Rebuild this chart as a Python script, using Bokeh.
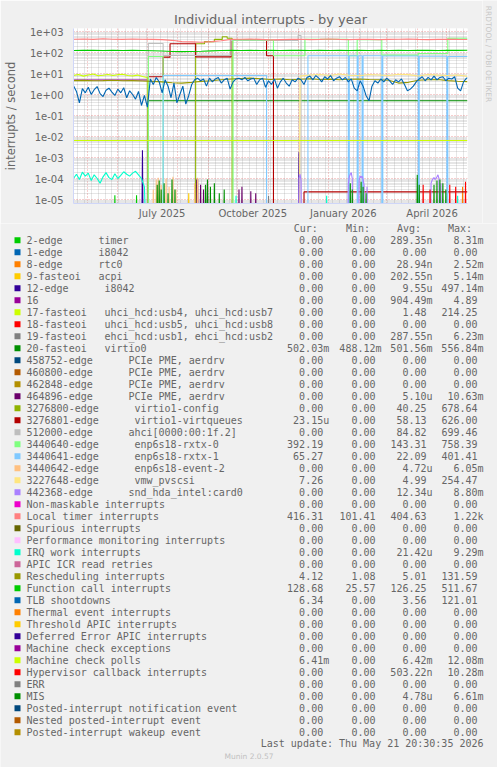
import re
import numpy as np
import pandas as pd
from bokeh.plotting import figure
from bokeh.layouts import column, row
from bokeh.models import Range1d, FixedTicker
from bokeh.core.properties import value
from bokeh.embed import file_html
from bokeh.resources import INLINE

# ---------------- data ----------------
START = "2025-04-17"          # left edge of the graph
N_DAYS = 400                  # graph spans 400 days
Y_MIN, Y_MAX = 6.45e-6, 1390

y_ticks = [1e-5, 1e-4, 1e-3, 1e-2, 1e-1, 1e0, 1e1, 1e2, 1e3]
y_tick_labels = ["1e-05", "1e-04", "1e-03", "1e-02", "1e-01", "1e+00", "1e+01", "1e+02", "1e+03"]
x_label_dates = ["2025-07-16", "2025-10-16", "2026-01-16", "2026-04-16"]
x_tick_labels = ["July 2025", "October 2025", "January 2026", "April 2026"]

# series values (day offset from START, rate in interrupts / second)
local_timer_days = list(range(0, 401, 10))
local_timer = [430, 440, 420, 450, 430, 420, 440, 430, 420, 410, 380, 330, 320, 310, 330, 360, 420, 430,
               440, 420, 400, 410, 420, 430, 410, 420, 440, 420, 410, 430, 420, 410, 420, 430, 440, 420,
               410, 420, 430, 420, 416]
function_call_days = list(range(0, 401, 10))
function_call = [125, 128, 126, 124, 127, 125, 126, 124, 122, 118, 112, 110, 112, 115, 120, 124, 126, 125,
                 127, 124, 126, 125, 128, 126, 124, 127, 125, 126, 124, 126, 125, 127, 124, 126, 125, 127,
                 126, 124, 127, 126, 128.7]
resched_days = list(range(0, 401, 10))
resched = [4.6, 4.7, 4.5, 4.6, 4.8, 4.5, 4.6, 4.4, 4.2, 4.0, 3.6, 3.5, 3.8, 4.2, 4.5, 5.0, 5.5, 5.8, 6.0,
           5.6, 5.2, 5.5, 5.0, 5.3, 5.6, 5.2, 5.4, 5.0, 5.3, 5.5, 5.2, 5.0, 4.8, 3.5, 3.8, 4.8, 5.0, 5.2,
           4.6, 4.3, 4.12]
tlb_days = list(range(0, 400, 3)) + [400]
tlb = [2.6, 1.4, 0.4, 1.9, 1.2, 2.2, 1.0, 1.7, 2.4, 1.1, 0.8, 1.6, 2.0, 1.3, 0.9, 1.8, 1.2, 2.1, 0.7, 1.5,
       1.0, 0.6, 1.4, 0.3, 0.9, 0.25,
       5.5, 3.0, 6.5, 4.0, 1.2, 5.0, 2.5, 0.7, 3.5, 0.4, 1.0, 2.5, 0.35, 0.9, 3.0,
       5.0, 6.0, 4.5, 5.5, 2.5, 6.0, 4.0, 5.5, 6.5, 3.5, 5.0, 6.0, 1.8,
       4.0, 5.5, 6.0, 5.0, 6.5, 4.5, 5.5, 6.0, 3.0, 5.0, 6.0, 2.2, 4.5,
       3.0, 5.5, 2.0, 4.0, 6.0, 3.5, 2.5, 5.0, 4.0, 6.0, 5.0, 3.0, 6.5, 7.5,
       5.0, 8.0, 6.0, 4.0, 7.0, 5.5, 8.0, 4.5, 6.0, 7.0, 5.0, 6.5, 4.0, 5.5,
       2.0, 1.5, 4.5, 2.5, 0.9, 0.5, 2.5, 4.5, 3.5, 5.5, 4.0, 6.0, 4.5, 3.0,
       5.0, 4.0, 5.5, 3.0, 1.5, 1.8, 2.5, 4.0, 5.5, 7.0, 4.5, 6.5, 5.0, 7.5,
       5.0, 6.5, 7.0, 4.5, 6.0, 5.5, 7.0, 2.0, 1.5, 4.0, 6.0, 6.34]
usb17_days = list(range(0, 76, 5)) + [76, 400]
usb17 = [8, 9, 7.5, 8.5, 9.5, 7.8, 8.2, 9, 8, 8.8, 9.2, 8, 7.6, 8.4, 7.2, 6.5, 0, 0]
irq16_days = [0, 76, 400]
irq16 = [4.9, 0, 0]
virtio0_days = [0, 76, 400]
virtio0 = [0, 0.5, 0.5]
mc_polls_days = [0, 400]
mc_polls = [6.4e-3, 6.4e-3]
irq_work_days = list(range(0, 73, 3)) + [75, 164, 165, 166, 256, 257, 258, 389, 390, 391, 400]
irq_work = [1.0e-4, 1.6e-4, 0.9e-4, 2.0e-4, 1.3e-4, 1.8e-4, 0.8e-4, 1.5e-4, 1.0e-4, 0.6e-4, 1.2e-4,
            1.9e-4, 1.1e-4, 0.9e-4, 1.7e-4, 1.0e-4, 1.4e-4, 2.1e-4, 1.6e-4, 1.3e-4, 1.8e-4, 2.2e-4,
            1.5e-4, 1.0e-4, 0.4e-4, 0, 0, 1.5e-5, 0, 0, 1.5e-5, 0, 0, 1.5e-5, 0, 0]
virtio1_config_days = [0, 124, 133, 143, 151, 156, 161, 400]
virtio1_config = [0, 260, 330, 420, 560, 480, 0, 0]
virtqueues_days = [0, 76, 91, 98, 124, 160, 196, 203, 234, 400]
virtqueues = [0, 7, 60, 260, 62, 410, 70, 0, 2.3e-5, 2.3e-5]
ahci_days = [0, 76, 91, 160, 228, 231, 400]
ahci = [0, 270, 72, 380, 650, 0, 0]
rxtx0_days = [0, 76, 91, 162, 203, 235, 279, 288, 313, 350, 380, 400]
rxtx0 = [0, 65, 0, 400, 70, 420, 70, 410, 75, 90, 480, 480]
rxtx1_days = [0, 91, 196, 238, 279, 280, 288, 289, 293, 294, 313, 314, 350, 351, 379, 380, 400]
rxtx1 = [0, 8, 0, 70, 0, 70, 0, 70, 0, 70, 0, 68, 0, 66, 0, 65, 65]
pvscsi_days = [0, 229] + list(range(230, 401, 10))
pvscsi = [0, 0, 7.5, 8.5, 9, 8, 9.5, 8.2, 7.8, 9, 8.5, 8, 9.2, 8.8, 7.6, 9, 8.4, 8, 8.5, 7.3]

# sparse events (all other days are 0)
timer_ev_days, timer_ev = [42, 64], [1.6e-5, 1.6e-5]
rtc0_ev_days, rtc0_ev = [395], [4e-5]
acpi_ev_days, acpi_ev = [117], [2e-5]
i8042_12_ev_days, i8042_12_ev = [70, 229], [2.2e-3, 1.8e-3]
ehci_ev_days, ehci_ev = [198], [1.5e-5]
pcie464896_ev_days = [125, 126, 129, 132, 136, 168, 171, 180, 185]
pcie464896_ev = [8e-5, 1e-4, 5e-5, 3e-5, 6e-5, 3e-5, 4e-5, 2.5e-5, 2e-5]
event2_ev_days = [81, 84, 86, 89, 94, 97, 101, 104, 123, 126]
event2_ev = [3e-5, 9e-5, 1.1e-4, 5e-5, 1e-4, 4e-5, 1.2e-4, 3e-5, 6e-5, 1.1e-4]
snd_ev_days = [229, 230, 231, 279, 280, 281, 282, 283, 290, 291, 292, 293, 294, 295, 298,
               363, 364, 365, 366, 367, 368, 369, 370, 371, 373]
snd_ev = [1e-4, 1.6e-4, 8e-5, 6e-5, 1.2e-4, 1.6e-4, 1.9e-4, 1e-4, 8e-5, 1.3e-4, 1.1e-4, 1.3e-4,
          9e-5, 5e-5, 4e-5, 6e-5, 8e-5, 1e-4, 1.1e-4, 9e-5, 1e-4, 1.2e-4, 1.5e-4, 1e-4, 6e-5]
hyperv_ev_days, hyperv_ev = [355, 362, 382, 388, 398], [5e-5, 3e-5, 5e-5, 4e-5, 7e-5]
mis_ev_days = [85, 87, 89, 92, 96, 100, 103, 134, 136, 139, 143, 148, 153, 281, 283, 292, 294, 297,
               349, 351, 366, 369, 372, 375, 378]
mis_ev = [5e-5, 8e-5, 3e-5, 6e-5, 2e-5, 9e-5, 3e-5, 5e-5, 9e-5, 4e-5, 6e-5, 2e-5, 3e-5, 6e-5, 3e-5,
          7e-5, 4e-5, 2e-5, 1.5e-4, 5e-5, 5e-5, 8e-5, 9e-5, 6e-5, 3e-5]

# legend table
legend_names = [
    "2-edge      timer", "1-edge      i8042", "8-edge      rtc0", "9-fasteoi   acpi",
    "12-edge      i8042", "16", "17-fasteoi   uhci_hcd:usb4, uhci_hcd:usb7",
    "18-fasteoi   uhci_hcd:usb5, uhci_hcd:usb8", "19-fasteoi   ehci_hcd:usb1, ehci_hcd:usb2",
    "20-fasteoi   virtio0", "458752-edge      PCIe PME, aerdrv", "460800-edge      PCIe PME, aerdrv",
    "462848-edge      PCIe PME, aerdrv", "464896-edge      PCIe PME, aerdrv",
    "3276800-edge      virtio1-config", "3276801-edge      virtio1-virtqueues",
    "512000-edge      ahci[0000:00:1f.2]", "3440640-edge      enp6s18-rxtx-0",
    "3440641-edge      enp6s18-rxtx-1", "3440642-edge      enp6s18-event-2",
    "3227648-edge      vmw_pvscsi", "442368-edge      snd_hda_intel:card0",
    "Non-maskable interrupts", "Local timer interrupts", "Spurious interrupts",
    "Performance monitoring interrupts", "IRQ work interrupts", "APIC ICR read retries",
    "Rescheduling interrupts", "Function call interrupts", "TLB shootdowns",
    "Thermal event interrupts", "Threshold APIC interrupts", "Deferred Error APIC interrupts",
    "Machine check exceptions", "Machine check polls", "Hypervisor callback interrupts", "ERR", "MIS",
    "Posted-interrupt notification event", "Nested posted-interrupt event", "Posted-interrupt wakeup event"]
legend_colors = ["#00CC00", "#0066B3", "#FF8000", "#FFCC00", "#330099", "#990099", "#CCFF00", "#FF0000",
                 "#808080", "#008F00", "#00487D", "#B35A00", "#B38F00", "#6B006B", "#8FB300", "#B30000",
                 "#BEBEBE", "#80FF80", "#80C9FF", "#FFC080", "#FFE680", "#AA80FF", "#EE00CC", "#FF8080",
                 "#666600", "#FFBFFF", "#00FFCC", "#CC6699", "#999900", "#00CC00", "#0066B3", "#FF8000",
                 "#FFCC00", "#330099", "#990099", "#CCFF00", "#FF0000", "#808080", "#008F00", "#00487D",
                 "#B35A00", "#B38F00"]
cur_vals = ["0.00"] * 9 + ["502.03m"] + ["0.00"] * 5 + ["23.15u", "0.00", "392.19", "65.27", "0.00", "7.26",
            "0.00", "0.00", "416.31", "0.00", "0.00", "0.00", "0.00", "4.12", "128.68", "6.34", "0.00",
            "0.00", "0.00", "0.00", "6.41m"] + ["0.00"] * 6
min_vals = ["0.00"] * 9 + ["488.12m"] + ["0.00"] * 13 + ["101.41"] + ["0.00"] * 4 + ["1.08", "25.57"] + ["0.00"] * 12
avg_vals = ["289.35n", "0.00", "28.94n", "202.55n", "9.55u", "904.49m", "1.48", "0.00", "287.55n", "501.56m",
            "0.00", "0.00", "0.00", "5.10u", "40.25", "58.13", "84.82", "143.31", "22.09", "4.72u", "4.99",
            "12.34u", "0.00", "404.63", "0.00", "0.00", "21.42u", "0.00", "5.01", "126.25", "3.56", "0.00",
            "0.00", "0.00", "0.00", "6.42m", "503.22n", "0.00", "4.78u", "0.00", "0.00", "0.00"]
max_vals = ["8.31m", "0.00", "2.52m", "5.14m", "497.14m", "4.89", "214.25", "0.00", "6.23m", "556.84m",
            "0.00", "0.00", "0.00", "10.63m", "678.64", "626.00", "699.46", "758.39", "401.41", "6.05m",
            "254.47", "8.80m", "0.00", "1.22k", "0.00", "0.00", "9.29m", "0.00", "131.59", "511.67",
            "121.01", "0.00", "0.00", "0.00", "0.00", "12.08m", "10.28m", "0.00", "6.61m", "0.00", "0.00", "0.00"]
col_headers = ["Cur:", "Min:", "Avg:", "Max:"]
last_update = "Last update: Thu May 21 20:30:35 2026"

# ---------------- styling ----------------
BG = "#F0F0F0"
FONT_COL = "#666666"
AXIS_COL = "#CFD6F8"
LW = 1.1
FLOOR = 1e-9   # zero rates drawn below the log axis, like rrdtool
W, H = 497, 767
H1 = 223                       # chart part height
W1 = 482                       # chart figure width (a thin strip on the right holds the rrdtool credit)
FL, FR, FT, FB = 67, 467, 28, 203   # frame edges (px)

t0 = pd.Timestamp(START)


def xdates(days):
    return t0 + pd.to_timedelta(np.asarray(days, dtype=float), unit="D")


def yvals(vals):
    v = np.asarray(vals, dtype=float)
    return np.where(v > 0, v, FLOOR)


p = figure(width=W1, height=H1, x_axis_type="datetime", y_axis_type="log",
           x_range=Range1d(t0, t0 + pd.Timedelta(days=N_DAYS)), y_range=Range1d(Y_MIN, Y_MAX),
           title="Individual interrupts - by year",
           output_backend="svg", toolbar_location=None, frame_align=False,
           min_border_left=FL, min_border_right=W1 - FR, min_border_top=FT, min_border_bottom=H1 - FB,
           background_fill_color="white", border_fill_color=BG, outline_line_color=None)
p.title.align = "center"
p.title.offset = 248.5 - (FL + FR) / 2
p.title.standoff = 3
p.title.text_font = "DejaVu Sans"
p.title.text_font_size = "13px"
p.title.text_font_style = "normal"
p.title.text_color = FONT_COL


def draw_line(days, vals, color):
    p.line(xdates(days), yvals(vals), line_color=color, line_width=LW)


def draw_step(days, vals, color):
    p.step(xdates(days), yvals(vals), mode="after", line_color=color, line_width=LW)


def draw_events(days, vals, color):
    daily = np.zeros(N_DAYS + 1)
    daily[np.asarray(days)] = vals
    draw_line(np.arange(N_DAYS + 1), daily, color)


C = legend_colors
draw_events(timer_ev_days, timer_ev, C[0])
draw_events(rtc0_ev_days, rtc0_ev, C[2])
draw_events(acpi_ev_days, acpi_ev, C[3])
draw_events(i8042_12_ev_days, i8042_12_ev, C[4])
draw_step(irq16_days, irq16, C[5])
draw_line(usb17_days, usb17, C[6])
draw_events(ehci_ev_days, ehci_ev, C[8])
draw_step(virtio0_days, virtio0, C[9])
draw_events(pcie464896_ev_days, pcie464896_ev, C[13])
draw_step(virtio1_config_days, virtio1_config, C[14])
draw_step(virtqueues_days, virtqueues, C[15])
draw_step(ahci_days, ahci, C[16])
draw_step(rxtx0_days, rxtx0, C[17])
draw_step(rxtx1_days, rxtx1, C[18])
draw_events(event2_ev_days, event2_ev, C[19])
draw_line(pvscsi_days, pvscsi, C[20])
draw_events(snd_ev_days, snd_ev, C[21])
draw_line(local_timer_days, local_timer, C[23])
draw_line(irq_work_days, irq_work, C[26])
draw_line(resched_days, resched, C[28])
draw_line(function_call_days, function_call, C[29])
draw_line(tlb_days, tlb, C[30])
draw_line(mc_polls_days, mc_polls, C[35])
draw_events(hyperv_ev_days, hyperv_ev, C[36])
draw_events(mis_ev_days, mis_ev, C[38])

# y axis / grid
y_minor = [k * 10.0 ** e for e in range(-6, 4) for k in range(2, 10)]
yt = FixedTicker(ticks=y_ticks, minor_ticks=y_minor)
p.yaxis.ticker = yt
p.yaxis.major_label_overrides = dict(zip(y_ticks, y_tick_labels))
p.ygrid.ticker = yt
p.ygrid.grid_line_color = "#E05050"
p.ygrid.grid_line_alpha = 0.55
p.ygrid.grid_line_dash = "1 2"
p.ygrid.minor_grid_line_color = "#8F8F8F"
p.ygrid.minor_grid_line_alpha = 0.45
p.ygrid.minor_grid_line_dash = "1 1"

# x axis / grid
label_ms = [pd.Timestamp(d).value / 1e6 for d in x_label_dates]
month_ms = [t.value / 1e6 for t in pd.date_range("2025-05-01", "2026-05-01", freq="MS")]
week_ms = [t.value / 1e6 for t in pd.date_range("2025-04-21", "2026-05-22", freq="7D")]
p.xaxis.ticker = FixedTicker(ticks=label_ms)
p.xaxis.major_label_overrides = dict(zip(label_ms, x_tick_labels))
p.xgrid.ticker = FixedTicker(ticks=month_ms, minor_ticks=week_ms)
p.xgrid.grid_line_color = "#E05050"
p.xgrid.grid_line_alpha = 0.55
p.xgrid.grid_line_dash = "1 2"
p.xgrid.minor_grid_line_color = "#8F8F8F"
p.xgrid.minor_grid_line_alpha = 0.45
p.xgrid.minor_grid_line_dash = "1 1"

for ax in (p.xaxis, p.yaxis):
    ax.axis_line_color = AXIS_COL
    ax.major_tick_line_color = None
    ax.minor_tick_line_color = None
    ax.major_tick_out = 0
    ax.major_label_text_font = "DejaVu Sans"
    ax.major_label_text_font_size = "10px"
    ax.major_label_text_color = FONT_COL
p.yaxis.major_label_standoff = 6
p.xaxis.major_label_standoff = 4
p.yaxis.axis_label = "interrupts / second"
p.yaxis.axis_label_standoff = 9
p.yaxis.axis_label_text_font = "DejaVu Sans"
p.yaxis.axis_label_text_font_size = "11.5px"
p.yaxis.axis_label_text_font_style = "normal"
p.yaxis.axis_label_text_color = FONT_COL

# thin strip on the right with the vertical rrdtool credit (pixel coordinates)
s = figure(width=W - W1, height=H1, x_range=Range1d(W1, W), y_range=Range1d(H1, 0),
           output_backend="svg", toolbar_location=None, frame_align=False,
           min_border=0, min_border_left=0, min_border_right=0, min_border_top=0, min_border_bottom=0,
           title=None, x_axis_location=None, y_axis_location=None,
           background_fill_color=BG, border_fill_color=BG, outline_line_color=None)
s.xgrid.visible = False
s.ygrid.visible = False
s.text(x=[487.5], y=[53.5], text=["RRDTOOL / TOBI OETIKER"], angle=-np.pi / 2,
       text_font=value("DejaVu Sans"), text_font_size="7.5px", text_color="#C8C8C8",
       text_align="center", text_baseline="middle")

# ---------------- legend table ----------------
q = figure(width=W, height=H - H1, x_range=Range1d(0, W), y_range=Range1d(H, H1),
           output_backend="svg", toolbar_location=None, frame_align=False,
           min_border=0, min_border_left=0, min_border_right=0, min_border_top=0, min_border_bottom=0,
           title=None, x_axis_location=None, y_axis_location=None,
           background_fill_color=BG, border_fill_color=BG, outline_line_color=None)
q.xgrid.visible = False
q.ygrid.visible = False

ROW0, DY, CW, TX = 239.7, 12.0, 6.0, 26.0
n = len(legend_names)
rows = [ROW0 + DY * i for i in range(n)]
mono = value("DejaVu Sans Mono")
q.rect(x=[17] * n, y=rows, width=6, height=6, fill_color=legend_colors, line_color=None)

# split "name      description" so the monospace columns survive SVG whitespace collapsing
part_x, part_y, part_t = [], [], []
for name, yy in zip(legend_names, rows):
    m = re.search(r"\s{2,}", name)
    if m:
        part_x += [TX, TX + CW * m.end()]
        part_y += [yy, yy]
        part_t += [name[:m.start()], name[m.end():]]
    else:
        part_x.append(TX)
        part_y.append(yy)
        part_t.append(name)
q.text(x=part_x, y=part_y, text=part_t, text_font=mono, text_font_size="10px",
       text_color=FONT_COL, text_baseline="middle", text_align="left")

col_end = [322.7, 375.0, 426.0, 477.0]
for ce, vals in zip(col_end, [cur_vals, min_vals, avg_vals, max_vals]):
    xs = [ce + (CW if v[-1].isalpha() else 0) for v in vals]
    q.text(x=xs, y=rows, text=vals, text_font=mono, text_font_size="10px",
           text_color=FONT_COL, text_baseline="middle", text_align="right")
q.text(x=[ce - 29.5 for ce in col_end], y=[227.5] * 4, text=col_headers, text_font=mono,
       text_font_size="10px", text_color=FONT_COL, text_baseline="middle", text_align="left")
q.text(x=[483], y=[743.3], text=[last_update], text_font=mono, text_font_size="10px",
       text_color=FONT_COL, text_baseline="middle", text_align="right")
q.text(x=[248.5], y=[756], text=["Munin 2.0.57"], text_font=value("DejaVu Sans"), text_font_size="7.5px",
       text_color="#C0C0C0", text_baseline="middle", text_align="center")

layout = column(row(p, s, spacing=0), q, spacing=0)
open("out.html", "w").write(file_html(layout, INLINE))
